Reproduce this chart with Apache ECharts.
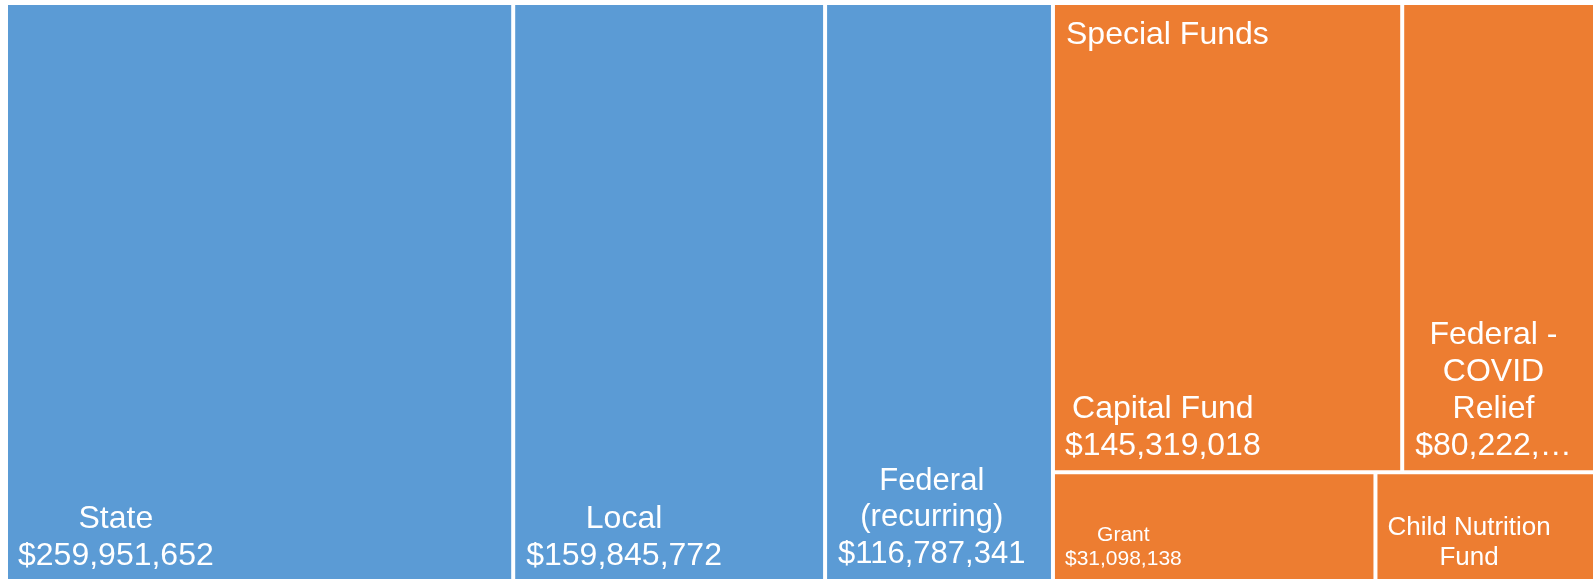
<!DOCTYPE html>
<html>
<head>
<meta charset="utf-8">
<script src="https://cdn.jsdelivr.net/npm/echarts@6/dist/echarts.min.js"></script>
<style>
  html, body { margin: 0; padding: 0; background: #fff; }
  #chart { width: 1593px; height: 582px; }
</style>
</head>
<body>
<div id="chart"></div>
<script>
// data
const groupNames = ['General Fund', 'Special Funds'];
const groupColors = ['#5B9BD5', '#ED7D31'];

const generalNames = ['State', 'Local', 'Federal (recurring)'];
const generalLabels = ['State', 'Local', 'Federal\n(recurring)'];
const generalValues = [259951652, 159845772, 116787341];

const specialNames = ['Capital Fund', 'Federal - COVID Relief', 'Grant', 'Child Nutrition Fund'];
const specialLabels = ['Capital Fund', 'Federal -\nCOVID\nRelief', 'Grant', 'Child Nutrition\nFund'];
const specialValues = [145319018, 80222400, 31098138, 21170000];

// label look per tile (Excel style: block sits bottom-left, lines centred on each other)
const FONT = '"Liberation Sans", Arial, sans-serif';
const labelStyles = {
  'State': { fs: 32, lh: 37, pad: 10, gap: 12 },
  'Local': { fs: 32, lh: 37, pad: 11, gap: 12 },
  'Federal (recurring)': { fs: 31, lh: 36.5, pad: 11, gap: 14 },
  'Capital Fund': { fs: 32, lh: 37, pad: 10, gap: 13 },
  'Federal - COVID Relief': { fs: 32, lh: 37, pad: 11, gap: 13, keep: 8 },
  'Grant': { fs: 21, lh: 23.5, pad: 10, gap: 13 },
  'Child Nutrition Fund': { fs: 26, lh: 30, pad: 10, gap: 12, noValue: true },
};

const ctx = document.createElement('canvas').getContext('2d');

function leaf(name, label, value) {
  const s = labelStyles[name];
  let money = '$' + value.toLocaleString('en-US');
  if (s.keep) money = money.slice(0, s.keep) + '\u2026';
  const lines = label.split('\n');
  if (!s.noValue) lines.push(money);
  ctx.font = s.fs + 'px ' + FONT;
  const w = Math.max(...lines.map(l => ctx.measureText(l).width));
  return {
    name,
    value,
    label: {
      formatter: lines.join('\n'),
      fontSize: s.fs,
      lineHeight: s.lh,
      position: [s.pad + w / 2, '100%'],
      // put the last baseline `gap` px above the tile bottom
      offset: [0, s.lh / 2 - 0.3465 * s.fs - s.gap],
      align: 'center',
      verticalAlign: 'bottom',
    },
  };
}

const treeData = [
  {
    name: groupNames[0],
    itemStyle: { color: groupColors[0] },
    children: generalNames.map((n, i) => leaf(n, generalLabels[i], generalValues[i])),
  },
  {
    name: groupNames[1],
    itemStyle: { color: groupColors[1] },
    children: specialNames.map((n, i) => leaf(n, specialLabels[i], specialValues[i])),
  },
];

const chart = echarts.init(document.getElementById('chart'));
chart.setOption({
  animation: false,
  backgroundColor: '#fff',
  tooltip: { show: false },
  series: [{
    type: 'treemap',
    left: 8,
    top: 5,
    right: 0,
    bottom: 3,
    roam: false,
    nodeClick: false,
    breadcrumb: { show: false },
    label: {
      show: true,
      color: '#fff',
      fontFamily: FONT,
      padding: 0,
      distance: 0,
    },
    upperLabel: { show: false },
    itemStyle: { borderColor: '#fff' },
    levels: [
      { itemStyle: { borderWidth: 0, gapWidth: 4, borderColor: '#fff' } },
      { itemStyle: { borderWidth: 0, gapWidth: 4, borderColor: '#fff' } },
      { itemStyle: { borderWidth: 0, gapWidth: 0 } },
    ],
    data: treeData,
  }],
  graphic: [{
    type: 'text',
    left: 1066,
    top: 19,
    z: 100,
    style: {
      text: groupNames[1],
      fill: '#fff',
      font: '32px ' + FONT,
      lineHeight: 32,
    },
  }],
});
</script>
</body>
</html>
